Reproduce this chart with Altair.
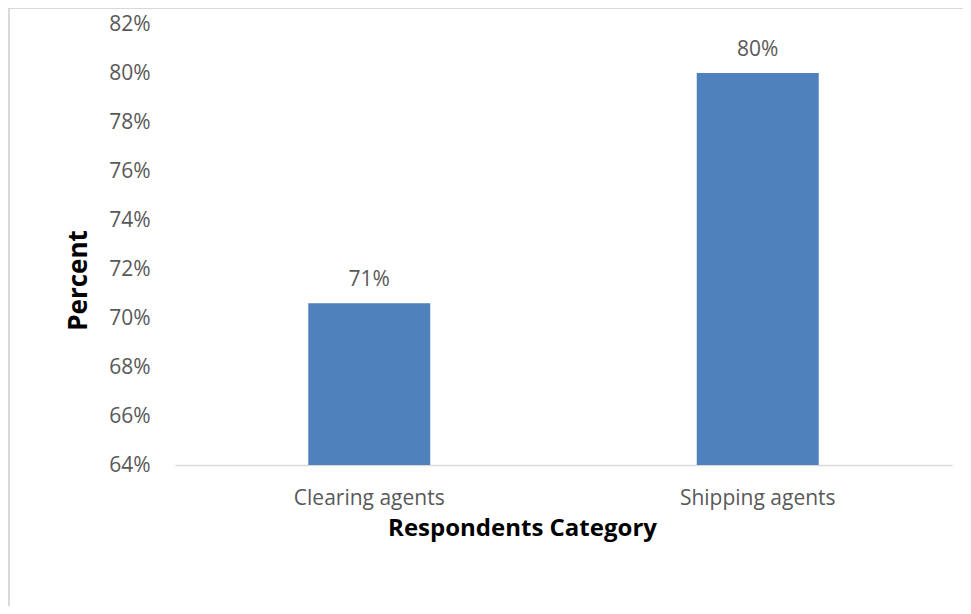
import altair as alt
import pandas as pd

categories = ["Clearing agents", "Shipping agents"]
values = [70.6, 80.0]
labels = ["71%", "80%"]
y_ticks = [64, 66, 68, 70, 72, 74, 76, 78, 80, 82]

df = pd.DataFrame({"category": categories, "value": values, "label": labels})

FONT = "Open Sans"
GRAY = "#595959"

x_enc = alt.X(
    "category:N",
    sort=categories,
    scale=alt.Scale(paddingInner=0.686, paddingOuter=0.343),
    axis=alt.Axis(
        title="Respondents Category",
        labelAngle=0,
        labelFont=FONT,
        labelFontSize=21,
        labelColor=GRAY,
        labelPadding=22,
        ticks=False,
        domainColor="#D9D9D9",
        domainWidth=1.5,
        titleFont=FONT,
        titleFontSize=24,
        titleFontWeight="bold",
        titleColor="#000000",
        titlePadding=8,
        titleX=347,
        titleAlign="center",
    ),
)

y_enc = alt.Y(
    "value:Q",
    scale=alt.Scale(domain=[64, 82], zero=False, nice=False),
    axis=alt.Axis(
        title="Percent",
        values=y_ticks,
        labelExpr="datum.value + '%'",
        labelFont=FONT,
        labelFontSize=21,
        labelColor=GRAY,
        labelPadding=25,
        ticks=False,
        domain=False,
        grid=False,
        titleFont=FONT,
        titleFontSize=26,
        titleFontWeight="bold",
        titleColor="#000000",
        titleAngle=-90,
        titleAlign="center",
        titleBaseline="alphabetic",
        titleX=-89,
        titleY=256,
    ),
)

bars = alt.Chart(df).mark_bar(color="#4F81BD", clip=True).encode(x=x_enc, y=y_enc)

text = alt.Chart(df).mark_text(
    font=FONT, fontSize=21, color=GRAY, baseline="bottom", dy=-13
).encode(x=alt.X("category:N", sort=categories), y="value:Q", text="label:N")

border = alt.Chart(pd.DataFrame({"a": [0]})).mark_rect(
    fill=None, stroke="#D9D9D9", strokeWidth=2, clip=False
).encode(
    x=alt.value(-166), x2=alt.value(830), y=alt.value(-16), y2=alt.value(640)
)

chart = (
    alt.layer(border, bars, text)
    .properties(
        width=777,
        height=441,
        autosize=alt.AutoSizeParams(type="none"),
        padding={"left": 167, "top": 16, "right": 11, "bottom": 141},
        view=alt.ViewBackground(stroke="transparent", strokeWidth=0, strokeOpacity=0),
    )
    .configure_view(strokeWidth=0, strokeOpacity=0, stroke="transparent")
    .configure(background="white")
)

chart.save("out.html", embed_options={"renderer": "svg", "actions": False})
